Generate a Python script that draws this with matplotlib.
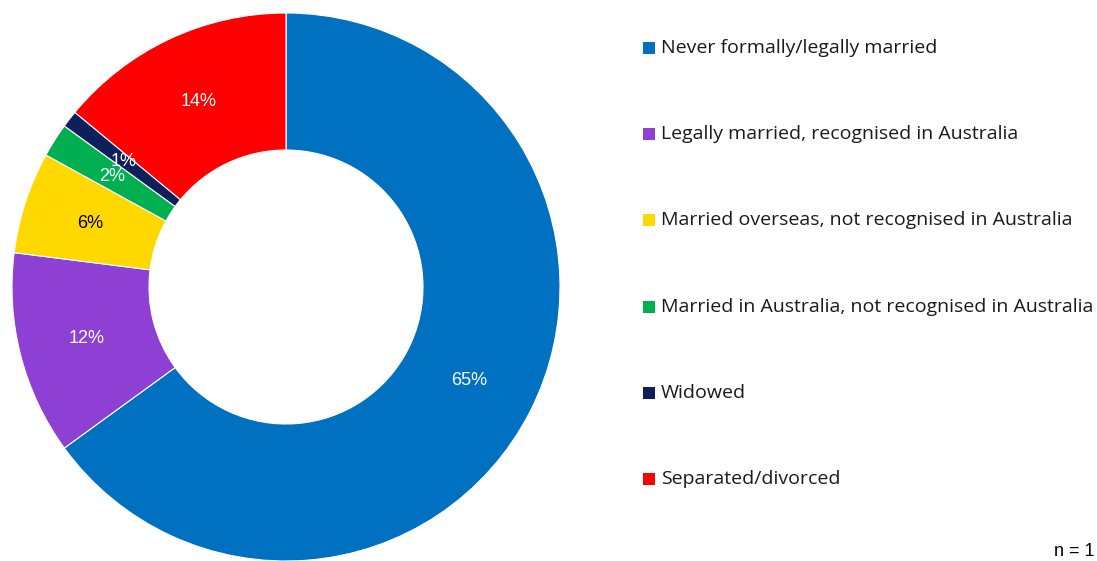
import matplotlib.pyplot as plt
from matplotlib.patches import Rectangle

CATEGORIES = [
    "Never formally/legally married",
    "Legally married, recognised in Australia",
    "Married overseas, not recognised in Australia",
    "Married in Australia, not recognised in Australia",
    "Widowed",
    "Separated/divorced",
]
SHARES = [65, 12, 6, 2, 1, 14]
COLORS = ["#0070C0", "#8E3FD4", "#FFD800", "#00B050", "#0E1F5B", "#FF0000"]
LABEL_COLORS = ["white", "white", "black", "white", "white", "white"]

plt.rcParams["font.family"] = ["Liberation Sans", "DejaVu Sans"]

W, H = 1097, 561
fig = plt.figure(figsize=(W / 100, H / 100), dpi=100)

# donut: centre (286, 287) px, radius 274 px
ax = fig.add_axes([(286 - 274) / W, 0, 548 / W, 548 / H])
wedges, texts = ax.pie(
    SHARES,
    colors=COLORS,
    startangle=90,
    counterclock=False,
    labels=[f"{v}%" for v in SHARES],
    labeldistance=0.75,
    radius=1.0,
    wedgeprops=dict(width=0.5, edgecolor="white", linewidth=0.8),
    textprops=dict(fontsize=13, ha="center", va="center"),
)
for t, c in zip(texts, LABEL_COLORS):
    t.set_color(c)
ax.set_xlim(-1, 1)
ax.set_ylim(-1, 1)
ax.set_aspect("equal")
ax.axis("off")

# legend column on the right
y0, step = 48, 86.2
for i, (lab, col) in enumerate(zip(CATEGORIES, COLORS)):
    y = y0 + i * step
    fig.patches.append(
        Rectangle((643 / W, 1 - (y + 6) / H), 12 / W, 12 / H,
                  transform=fig.transFigure, facecolor=col, edgecolor="none")
    )
    fig.text(661 / W, 1 - y / H, lab, fontsize=14, color="#1a1a1a",
             ha="left", va="center", family=["Open Sans", "DejaVu Sans"])

# sample size note, bottom right corner
fig.text(1095 / W, 1 / H, "n = 1", fontsize=13, color="black",
         ha="right", va="bottom")

plt.savefig("out.png", dpi=100)
